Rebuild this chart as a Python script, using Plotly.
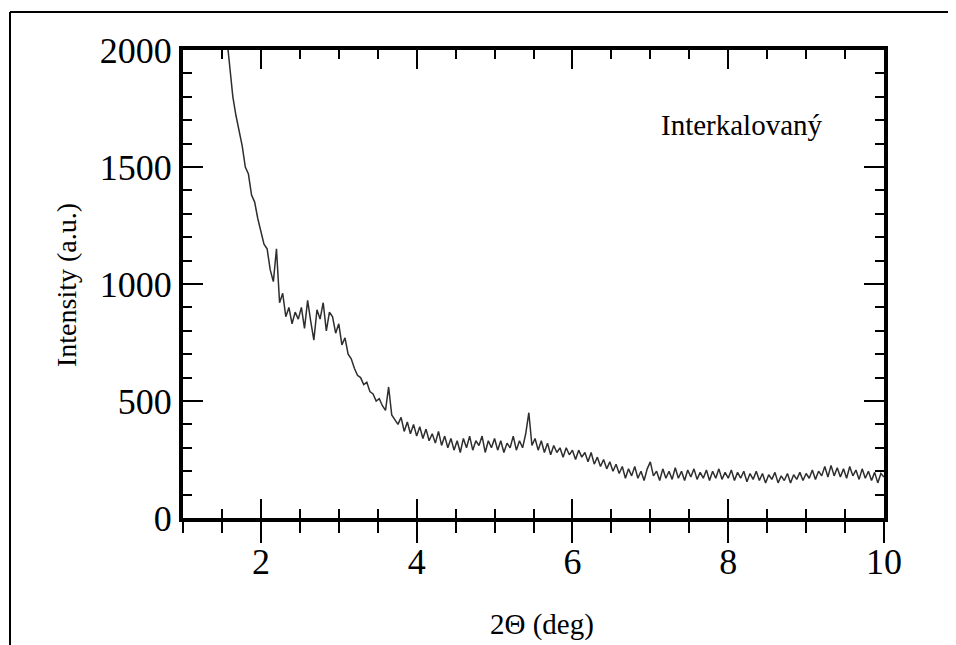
import plotly.graph_objects as go

# ---- data ----
theta_start = 1.56
theta_step = 0.04
intensity = [
    2060, 1940, 1800, 1720, 1650, 1590, 1500, 1470, 1380, 1350,
    1280, 1230, 1170, 1150, 1060, 1010, 1150, 920, 960, 860,
    900, 830, 880, 850, 900, 810, 930, 840, 760, 890,
    850, 920, 800, 880, 860, 790, 830, 740, 770, 700,
    680, 640, 610, 600, 570, 580, 540, 530, 500, 510,
    480, 460, 560, 440, 420, 400, 430, 370, 410, 360,
    400, 350, 390, 340, 380, 330, 360, 320, 370, 310,
    350, 300, 340, 290, 330, 280, 340, 300, 350, 290,
    330, 310, 350, 280, 330, 300, 340, 290, 330, 280,
    320, 300, 350, 290, 330, 300, 360, 450, 310, 340,
    290, 330, 280, 320, 270, 310, 280, 300, 260, 300,
    270, 290, 250, 290, 260, 280, 240, 280, 230, 260,
    220, 250, 210, 240, 200, 230, 190, 220, 170, 210,
    180, 220, 170, 200, 160, 210, 240, 180, 200, 160,
    210, 170, 200, 165, 215, 170, 200, 160, 205, 175,
    210, 165, 195, 170, 205, 160, 200, 170, 210, 165,
    195, 170, 205, 160, 195, 170, 200, 155, 190, 165,
    200, 160, 190, 150, 185, 165, 195, 150, 180, 160,
    190, 150, 185, 165, 195, 160, 190, 170, 205, 165,
    200, 180, 220, 175, 225, 180, 215, 175, 210, 170,
    220, 180, 205, 165, 210, 170, 200, 160, 195, 150,
    190, 175,
]
two_theta = [round(theta_start + theta_step * i, 2) for i in range(len(intensity))]

x_ticks = [2, 4, 6, 8, 10]
y_ticks = [0, 500, 1000, 1500, 2000]
x_title = "2Θ (deg)"
y_title = "Intensity (a.u.)"
label_text = "Interkalovaný"
label_pos = (8.18, 1680)

FONT = "Liberation Serif, Times New Roman, serif"

# the page places the figure at (8, 8); reference pixel = figure pixel + 8
W, H = 948, 637
L, T = 175, 42
PW, PH = 701, 468
R = W - L - PW
B = H - T - PH


def px(xr):
    return (xr - 8 - L) / PW


def py(yr):
    return ((T + PH) - (yr - 8)) / PH


fig = go.Figure()
fig.add_trace(go.Scatter(
    x=two_theta, y=intensity, mode="lines",
    line=dict(color="#2e2e2e", width=1.5),
    showlegend=False, hoverinfo="skip",
))

fig.update_layout(
    width=W, height=H,
    margin=dict(l=L, r=R, t=T, b=B),
    paper_bgcolor="white", plot_bgcolor="white",
    font=dict(family=FONT, color="black"),
    xaxis=dict(
        range=[1, 10], tickvals=x_ticks, ticks="outside", ticklen=21,
        tickwidth=1.5, tickcolor="black",
        minor=dict(dtick=0.5, tick0=0, ticks="outside", ticklen=11,
                   tickwidth=1.5, tickcolor="black"),
        showline=True, linecolor="black", linewidth=4,
        showgrid=False, zeroline=False,
        tickfont=dict(size=36, family=FONT),
        ticklabelstandoff=-12,
    ),
    xaxis2=dict(
        overlaying="x", matches="x", side="bottom", anchor="y",
        range=[1, 10], tickvals=x_ticks, ticks="inside", ticklen=19,
        tickwidth=1.5, tickcolor="black",
        minor=dict(dtick=0.5, tick0=0, ticks="inside", ticklen=9,
                   tickwidth=1.5, tickcolor="black"),
        showline=True, linecolor="black", linewidth=3.5, mirror="ticks",
        showgrid=False, zeroline=False, showticklabels=False,
    ),
    yaxis=dict(
        range=[0, 2000], tickvals=y_ticks, ticks="inside", ticklen=20,
        tickwidth=2, tickcolor="black",
        minor=dict(dtick=100, tick0=0, ticks="inside", ticklen=9,
                   tickwidth=2, tickcolor="black"),
        showline=True, linecolor="black", linewidth=4, mirror="ticks",
        showgrid=False, zeroline=False,
        tickfont=dict(size=36, family=FONT),
        ticklabelstandoff=0,
    ),
)

# invisible trace to activate the overlay x axis
fig.add_trace(go.Scatter(x=[two_theta[0]], y=[intensity[-1]], xaxis="x2",
                         mode="markers", marker=dict(opacity=0),
                         showlegend=False, hoverinfo="skip"))

fig.add_annotation(x=label_pos[0], y=label_pos[1], xref="x", yref="y",
                   text=label_text, showarrow=False,
                   xanchor="center", yanchor="middle",
                   font=dict(size=29, family=FONT, color="black"))
fig.add_annotation(x=px(542), y=py(624), xref="paper", yref="paper",
                   text=x_title, showarrow=False,
                   xanchor="center", yanchor="middle",
                   font=dict(size=29, family=FONT, color="black"))
fig.add_annotation(x=px(66), y=py(285), xref="paper", yref="paper",
                   text=y_title, showarrow=False, textangle=-90,
                   xanchor="center", yanchor="middle",
                   font=dict(size=28, family=FONT, color="black"))

# outer frame (left and top edges of the original picture), kept inside the figure
xl = px(10)
yt = py(12)
x_right = (W - L) / PW
y_bottom = -B / PH
fig.add_shape(type="line", xref="paper", yref="paper", x0=xl, x1=xl,
              y0=y_bottom, y1=yt, line=dict(color="black", width=2))
fig.add_shape(type="line", xref="paper", yref="paper", x0=xl, x1=x_right,
              y0=yt, y1=yt, line=dict(color="black", width=2))

fig.write_html("out.html", post_script="document.body.style.overflow='hidden';")
